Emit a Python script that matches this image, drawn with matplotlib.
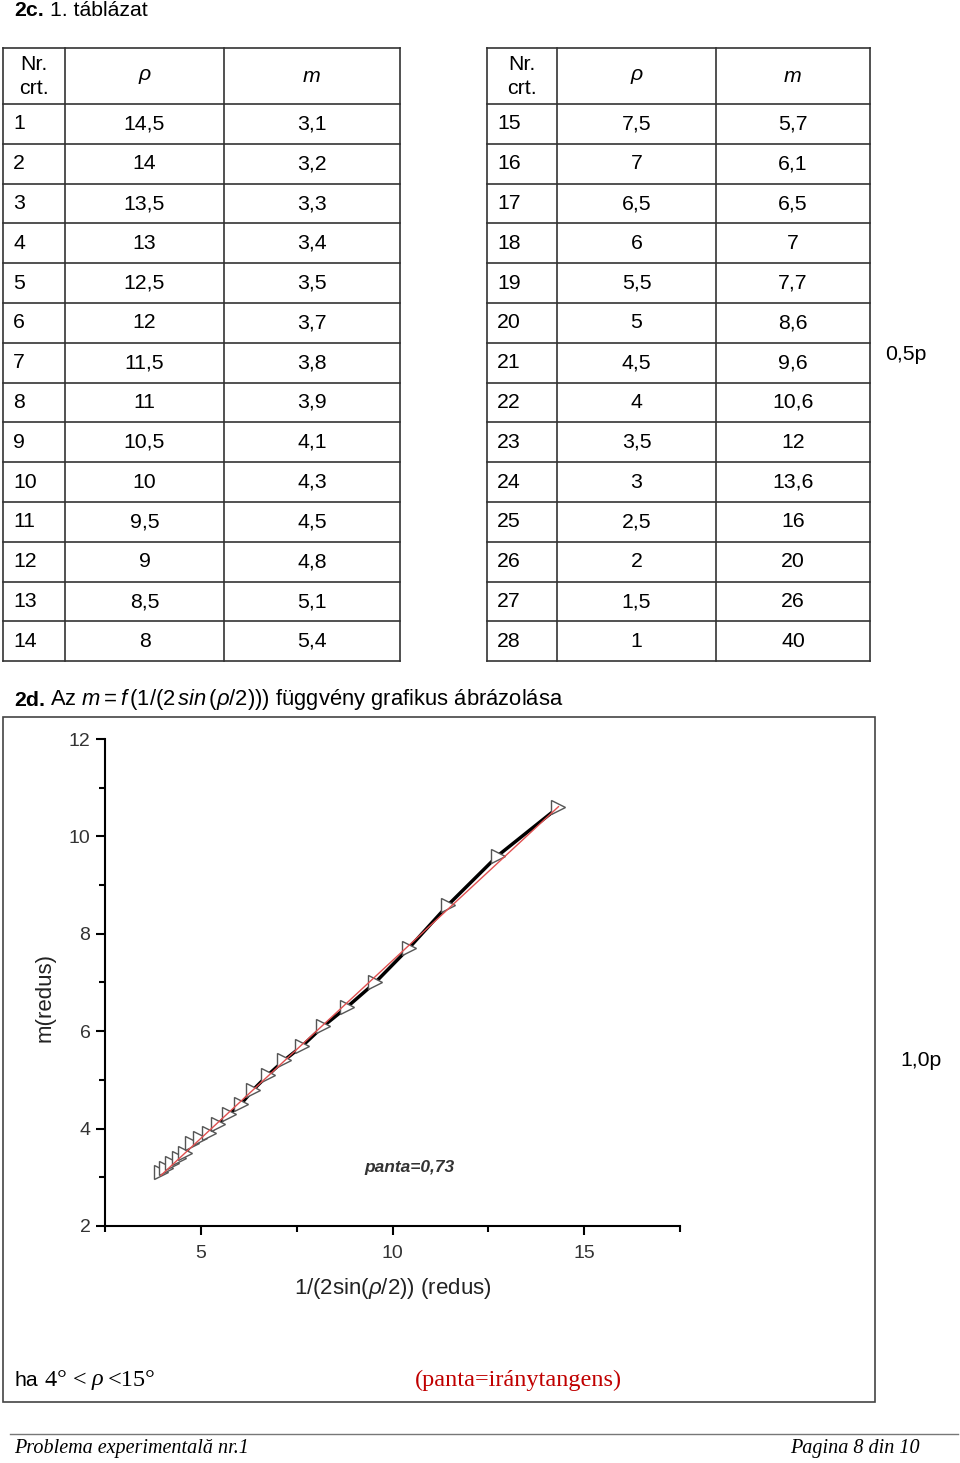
import numpy as np
import matplotlib.pyplot as plt
from matplotlib.patches import Rectangle

plt.rcParams['font.family'] = ['Liberation Sans', 'DejaVu Sans']
plt.rcParams['mathtext.fontset'] = 'custom'
plt.rcParams['mathtext.rm'] = 'Liberation Sans'
plt.rcParams['mathtext.it'] = 'Liberation Sans:italic'
plt.rcParams['mathtext.bf'] = 'Liberation Sans:bold'

# 1. táblázat
nr = list(range(1, 29))
rho = [14.5, 14, 13.5, 13, 12.5, 12, 11.5, 11, 10.5, 10, 9.5, 9, 8.5, 8,
       7.5, 7, 6.5, 6, 5.5, 5, 4.5, 4, 3.5, 3, 2.5, 2, 1.5, 1]
m = [3.1, 3.2, 3.3, 3.4, 3.5, 3.7, 3.8, 3.9, 4.1, 4.3, 4.5, 4.8, 5.1, 5.4,
     5.7, 6.1, 6.5, 7, 7.7, 8.6, 9.6, 10.6, 12, 13.6, 16, 20, 26, 40]

# plotted points (4 <= rho <= 14.5): x = 1/(2 sin(rho/2))
inv_sin = [3.96, 4.10, 4.25, 4.42, 4.59, 4.78, 4.99, 5.22, 5.46, 5.74, 6.04,
           6.37, 6.75, 7.17, 7.65, 8.19, 8.82, 9.55, 10.42, 11.46, 12.74, 14.33]
m_plot = m[:len(inv_sin)]


def fmt(v):
    return ('%g' % v).replace('.', ',')


fig = plt.figure(figsize=(9.6, 14.63), dpi=100)
page = fig.add_axes([0, 0, 1, 1])
page.set_xlim(0, 960)
page.set_ylim(1463, 0)
page.axis('off')

FS = 15.3
page.text(14, 11, '2c.', fontsize=FS, fontweight='bold', va='center')
page.text(50, 11, '1. táblázat', fontsize=FS, va='center')


def draw_table(cols, nrs, rhos, ms):
    top, head, rh = 48, 104, 39.8
    n = len(nrs)
    bottom = head + n * rh
    for xc in cols:
        page.plot([xc, xc], [top, bottom], color='#333', lw=1.2)
    for y in [top, head] + [head + rh * (i + 1) for i in range(n)]:
        page.plot([cols[0], cols[-1]], [y, y], color='#333', lw=1.2)
    c0 = (cols[0] + cols[1]) / 2
    c1 = (cols[1] + cols[2]) / 2
    c2 = (cols[2] + cols[3]) / 2
    page.text(c0, 64, 'Nr.', fontsize=FS, ha='center', va='center')
    page.text(c0, 88, 'crt.', fontsize=FS, ha='center', va='center')
    page.text(c1, 75, 'ρ', fontsize=FS, style='italic', ha='center', va='center')
    page.text(c2, 77, 'm', fontsize=FS, style='italic', ha='center', va='center')
    for i in range(n):
        yc = head + rh * (i + 0.5)
        page.text(cols[0] + 10, yc, str(nrs[i]), fontsize=FS, va='center')
        page.text(c1, yc, fmt(rhos[i]), fontsize=FS, ha='center', va='center')
        page.text(c2, yc, fmt(ms[i]), fontsize=FS, ha='center', va='center')


draw_table([3, 65, 224, 400], nr[:14], rho[:14], m[:14])
draw_table([487, 557, 716, 870], nr[14:], rho[14:], m[14:])
page.text(885, 355, '0,5p', fontsize=FS, va='center')

page.text(14, 700, '2d.', fontsize=FS, fontweight='bold', va='center')
page.text(50, 700, r'Az $m = f\,(1/(2\,sin\,(\rho/2)))$ függvény grafikus ábrázolása',
          fontsize=15.8, va='center')

page.add_patch(Rectangle((3, 717), 872, 685, fill=False, ec='#444', lw=1.2))
page.text(900, 1060, '1,0p', fontsize=FS, va='center')
page.text(14, 1380, 'ha', fontsize=FS, va='center')
page.text(45, 1380, '4° < ', fontsize=17.5, family='Liberation Serif', va='center')
page.text(92, 1380, 'ρ', fontsize=17.5, family='Liberation Serif', style='italic', va='center')
page.text(108, 1380, '<15°', fontsize=17.5, family='Liberation Serif', va='center')
page.text(415, 1380, '(panta=iránytangens)', fontsize=17.5, family='Liberation Serif',
          color='#c00000', va='center')

page.plot([10, 958], [1434, 1434], color='#777', lw=1)
page.text(14, 1449, 'Problema experimentală nr.1', fontsize=14.5, family='Liberation Serif',
          style='italic', va='center')
page.text(920, 1449, 'Pagina 8 din 10', fontsize=14.5, family='Liberation Serif',
          style='italic', ha='right', va='center')

# chart
ax = fig.add_axes([105 / 960, 1 - 1226 / 1463, (680 - 105) / 960, (1226 - 739) / 1463])
ax.patch.set_alpha(0)
ax.plot(inv_sin, m_plot, color='black', lw=2.5, zorder=2)
ax.plot(inv_sin, m_plot, ls='none', marker='>', ms=10, mfc='white', mec='#555', mew=1,
        zorder=3)
k, b = np.polyfit(inv_sin, m_plot, 1)
xf = np.array([inv_sin[0], inv_sin[-1]])
ax.plot(xf, k * xf + b, color='#e05050', lw=1, zorder=4)

ax.set_xlim(2.5, 17.5)
ax.set_ylim(2, 12)
ax.set_xticks([5, 10, 15])
ax.set_xticks([2.5, 7.5, 12.5, 17.5], minor=True)
ax.set_yticks([2, 4, 6, 8, 10, 12])
ax.set_yticks([3, 5, 7, 9, 11], minor=True)
for s in ['top', 'right']:
    ax.spines[s].set_visible(False)
for s in ['left', 'bottom']:
    ax.spines[s].set_linewidth(1.5)
ax.tick_params(which='major', direction='out', length=6.5, width=1.5, labelsize=14,
               labelcolor='#333', pad=4)
ax.tick_params(which='minor', direction='out', length=4.5, width=1.5)
ax.tick_params(axis='x', which='major', pad=7)
ax.set_xlabel(r'1/(2sin($\rho$/2)) (redus)', fontsize=16, color='#222', va='center')
ax.xaxis.set_label_coords(0.5, -0.129)
ax.set_ylabel('m(redus)', fontsize=16, color='#222', va='center')
ax.yaxis.set_label_coords(-0.104, 0.47)
ax.text(0.53, 0.12, 'panta=0,73', transform=ax.transAxes, fontsize=12.5, color='#333',
        fontweight='bold', style='italic', ha='center', va='center')

fig.savefig('out.png', dpi=100)
